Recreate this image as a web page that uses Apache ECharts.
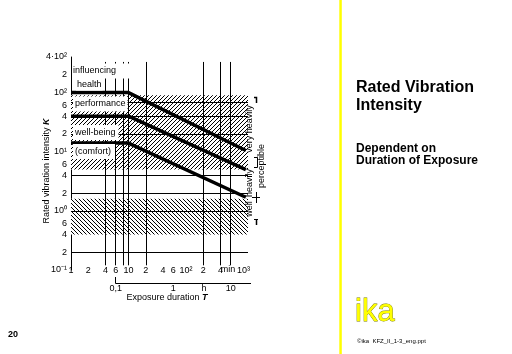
<!DOCTYPE html>
<html>
<head>
<meta charset="utf-8">
<script src="https://cdn.jsdelivr.net/npm/echarts@6/dist/echarts.min.js"></script>
<style>
html, body { margin: 0; padding: 0; background: #fff; }
#chart { width: 512px; height: 354px; }
</style>
</head>
<body>
<div id="chart"></div>
<script>
// exposure duration T (min) and rated vibration intensity K
var durationTicks = [1, 2, 4, 6, 10, 20, 40, 60, 100, 200, 400, 1000];
var durationLabels = ["1", "2", "4", "6", "10", "2", "4", "6", "10²", "2", "4", "10³"];
var hourTicks = [0.1, 1, 10];
var hourLabels = ["0,1", "1", "10"];
var intensityTicks = [0.1, 0.2, 0.4, 0.6, 1, 2, 4, 6, 10, 20, 40, 60, 100, 200, 400];
var intensityLabels = ["10⁻¹", "2", "4", "6", "10⁰", "2", "4", "6", "10¹", "2", "4", "6", "10²", "2", "4·10²"];
var gridK = [0.2, 1, 2, 4, 20, 40, 70];
var gridT = [4, 6, 8, 10, 20, 200, 400, 600];
var healthLimit = [[1, 100], [10, 100], [1100, 10.5]];
var performanceLimit = [[1, 40], [10, 40], [1100, 5]];
var comfortLimit = [[1, 14], [10, 14], [1100, 1.7]];
var heavyBand = [90, 5];
var wellBand = [1.6, 0.4];

var FONT = '"Liberation Sans", Arial, sans-serif';
var chart = echarts.init(document.getElementById("chart"));

function hatch(up) {
  var n = 4;
  var c = document.createElement("canvas");
  c.width = n;
  c.height = n;
  var ctx = c.getContext("2d");
  ctx.fillStyle = "#fff";
  ctx.fillRect(0, 0, n, n);
  ctx.fillStyle = "#000";
  for (var i = 0; i < n; i++) {
    ctx.fillRect(i, up ? n - 1 - i : i, 1, 1);
  }
  return c;
}

function pick(ticks, labels) {
  return function (v) {
    for (var i = 0; i < ticks.length; i++) {
      if (Math.abs(Math.log10(v) - Math.log10(ticks[i])) < 1e-6) return labels[i];
    }
    return "";
  };
}

function txt(text, x, y, size, extra, rot) {
  var style = { text: text, fontSize: size, fontFamily: FONT, fill: "#000", verticalAlign: "middle" };
  for (var k in extra) style[k] = extra[k];
  return { type: "text", x: x, y: y, z: 100, rotation: rot || 0, style: style };
}

function seg(points, w) {
  return { type: "polyline", z: 100, shape: { points: points }, style: { stroke: "#000", lineWidth: w || 1, fill: null } };
}

function limit(name, data) {
  return {
    name: name,
    type: "line",
    data: data,
    symbol: "none",
    z: 5,
    lineStyle: { color: "#000", width: 3.5 },
    silent: true
  };
}

var UP = Math.PI / 2;
var boldItalic = { fontSize: 9, fontFamily: FONT, fontStyle: "italic", fontWeight: "bold" };

var option = {
  animation: false,
  grid: { left: 71, top: 57, width: 177, height: 213 },
  xAxis: [
    {
      type: "log",
      min: 1,
      max: 1200,
      axisLine: { show: false },
      axisTick: { show: false },
      splitLine: { show: false },
      axisLabel: {
        customValues: durationTicks,
        formatter: pick(durationTicks, durationLabels),
        margin: -4,
        fontSize: 9,
        fontFamily: FONT,
        color: "#000"
      }
    },
    {
      type: "log",
      min: 1 / 60,
      max: 20,
      position: "bottom",
      offset: 13,
      axisLine: { show: false },
      axisTick: { show: false },
      splitLine: { show: false },
      axisLabel: {
        customValues: hourTicks,
        formatter: pick(hourTicks, hourLabels),
        margin: 1,
        fontSize: 9,
        fontFamily: FONT,
        color: "#000"
      }
    }
  ],
  yAxis: {
    type: "log",
    min: 0.1,
    max: 400,
    axisLine: { show: true, lineStyle: { color: "#000", width: 1 } },
    axisTick: { show: false },
    splitLine: { show: false },
    axisLabel: {
      customValues: intensityTicks,
      formatter: pick(intensityTicks, intensityLabels),
      margin: 4,
      fontSize: 9,
      fontFamily: FONT,
      color: "#000"
    }
  },
  series: [
    {
      type: "line",
      data: [],
      z: 1,
      markArea: {
        silent: true,
        data: [
          [{ yAxis: heavyBand[0], itemStyle: { color: { image: hatch(true), repeat: "repeat" } } }, { yAxis: heavyBand[1] }],
          [{ yAxis: wellBand[0], itemStyle: { color: { image: hatch(false), repeat: "repeat" } } }, { yAxis: wellBand[1] }]
        ]
      },
      markLine: {
        silent: true,
        symbol: "none",
        label: { show: false },
        lineStyle: { color: "#000", width: 1, type: "solid" },
        data: gridK.map(function (k) { return { yAxis: k }; }).concat(
          gridT.map(function (t) { return [{ coord: [t, 330] }, { coord: [t, 0.12] }]; })
        )
      }
    },
    limit("health", healthLimit),
    limit("performance", performanceLimit),
    limit("comfort", comfortLimit)
  ],
  graphic: [
    // labels inside the chart
    txt("influencing", 72, 71, 9, { backgroundColor: "#fff", padding: [3, 15, 3, 1] }),
    txt("health", 76, 85, 9, { backgroundColor: "#fff", padding: [1, 1, 1, 1] }),
    txt("performance", 73, 104, 9, { backgroundColor: "#fff", padding: [3, 2, 3, 2] }),
    txt("well-being", 73, 132.5, 9, { backgroundColor: "#fff", padding: [3, 3, 3, 2] }),
    txt("(comfort)", 73, 151.5, 9, { backgroundColor: "#fff", padding: [3, 4, 3, 2] }),
    // perceptibility scale on the right
    txt("very heavily", 250, 129, 9, { align: "center" }, UP),
    txt("heavily", 250, 183, 9, { align: "center" }, UP),
    txt("well", 250, 209, 9, { align: "center" }, UP),
    txt("perceptible", 262, 166, 9, { align: "center" }, UP),
    seg([[254, 97.5], [256.5, 97.5], [256.5, 103]], 1.5),
    seg([[254, 157.5], [257.5, 157.5], [257.5, 167.5], [254, 167.5]], 1),
    seg([[252, 197.5], [260, 197.5]], 1),
    seg([[256.5, 192], [256.5, 203]], 1),
    seg([[254, 219.5], [258, 219.5]], 1),
    seg([[256.5, 219.5], [256.5, 225]], 1.5),
    // axis titles
    txt("min", 228, 270, 9, { align: "center" }),
    txt("h", 204, 289, 9, { align: "center" }),
    seg([[115.5, 277], [115.5, 283.5], [251, 283.5]], 1),
    txt("Exposure duration {t|T}", 167, 298, 9, { align: "center", rich: { t: boldItalic } }),
    txt("Rated vibration intensity {k|K}", 47, 171, 9, { align: "center", rich: { k: boldItalic } }, UP),
    // slide decoration
    { type: "rect", z: 100, shape: { x: 339.3, y: 0, width: 2.5, height: 354 }, style: { fill: "#ffff00" } },
    txt("Rated Vibration", 356, 87.5, 16, { fontWeight: "bold" }),
    txt("Intensity", 356, 106, 16, { fontWeight: "bold" }),
    txt("Dependent on", 356, 149, 12, { fontWeight: "bold" }),
    txt("Duration of Exposure", 356, 161, 12, { fontWeight: "bold" }),
    txt("ika", 355, 312, 31, { fill: "#ffff00", stroke: "#7a7a00", lineWidth: 0.8 }),
    txt("©ika  KFZ_II_1-3_eng.ppt", 357, 341, 6, {}),
    txt("20", 8, 335, 9, { fontWeight: "bold" })
  ]
};

chart.setOption(option);
</script>
</body>
</html>
